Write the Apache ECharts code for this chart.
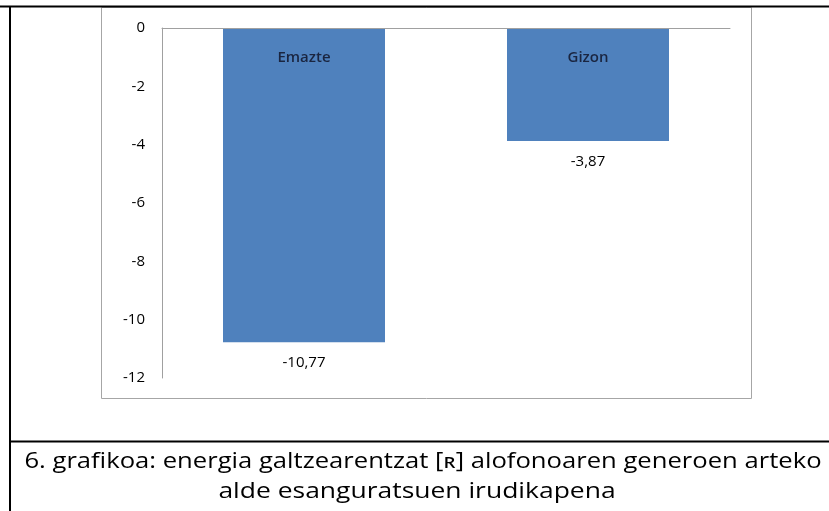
<!DOCTYPE html>
<html>
<head>
<meta charset="utf-8">
<script src="https://cdn.jsdelivr.net/npm/echarts@6/dist/echarts.min.js"></script>
<style>
  html, body { margin: 0; padding: 0; background: #fff; }
  #chart { width: 829px; height: 511px; }
</style>
</head>
<body>
<div id="chart"></div>
<script>
// Difference in energy loss between genders for the [ʀ] allophone
const categories = ['Emazte', 'Gizon'];
const values = [-10.77, -3.87];
const captionLines = [
  '6. grafikoa: energia galtzearentzat [ʀ] alofonoaren generoen arteko',
  'alde esanguratsuen irudikapena'
];

const FONT = '"Open Sans", Lato, sans-serif';
const fmt = v => String(v).replace('.', ',');

const chart = echarts.init(document.getElementById('chart'), null, { renderer: 'canvas' });

chart.setOption({
  animation: false,
  backgroundColor: '#ffffff',
  graphic: [
    // table cell borders
    { type: 'line', z: 0, shape: { x1: 0, y1: 6.5, x2: 829, y2: 6.5 }, style: { stroke: '#000', lineWidth: 2 } },
    { type: 'line', z: 0, shape: { x1: 10, y1: 6, x2: 10, y2: 511 }, style: { stroke: '#000', lineWidth: 2 } },
    { type: 'line', z: 0, shape: { x1: 10, y1: 441.5, x2: 829, y2: 441.5 }, style: { stroke: '#000', lineWidth: 2 } },
    // chart frame
    { type: 'rect', z: -1, shape: { x: 101.5, y: 7.5, width: 650, height: 391 },
      style: { fill: '#fff', stroke: '#a6a6a6', lineWidth: 1 } },
    // caption, widened to the cell
    { type: 'text', z: 5, x: 423, y: 462, scaleX: 1.22, scaleY: 1,
      style: { text: captionLines[0], font: '21px ' + FONT, fill: '#000',
               textAlign: 'center', textVerticalAlign: 'middle' } },
    { type: 'text', z: 5, x: 417, y: 492, scaleX: 1.26, scaleY: 1,
      style: { text: captionLines[1], font: '21px ' + FONT, fill: '#000',
               textAlign: 'center', textVerticalAlign: 'middle' } }
  ],
  grid: { left: 162, top: 28, right: 99, bottom: 133, containLabel: false },
  xAxis: {
    type: 'category',
    data: categories,
    position: 'top',
    z: 10,
    axisLine: { show: true, lineStyle: { color: '#a0a0a0', width: 1 } },
    axisTick: { show: false },
    axisLabel: { inside: true, margin: 22, fontFamily: FONT, fontSize: 15,
                 fontWeight: 600, color: '#1a2540' },
    splitLine: { show: false }
  },
  yAxis: {
    type: 'value',
    min: -12, max: 0, interval: 2,
    axisLine: { show: true, lineStyle: { color: '#a0a0a0', width: 1 } },
    axisTick: { show: false },
    splitLine: { show: false },
    axisLabel: { margin: 17, fontFamily: FONT, fontSize: 15, color: '#000' }
  },
  series: [{
    type: 'bar',
    data: values,
    barWidth: 162,
    itemStyle: { color: '#4f81bd' },
    label: { show: true, position: 'bottom', distance: 13, fontFamily: FONT,
             fontSize: 15, color: '#000', formatter: p => fmt(p.value) }
  }]
});
</script>
</body>
</html>
